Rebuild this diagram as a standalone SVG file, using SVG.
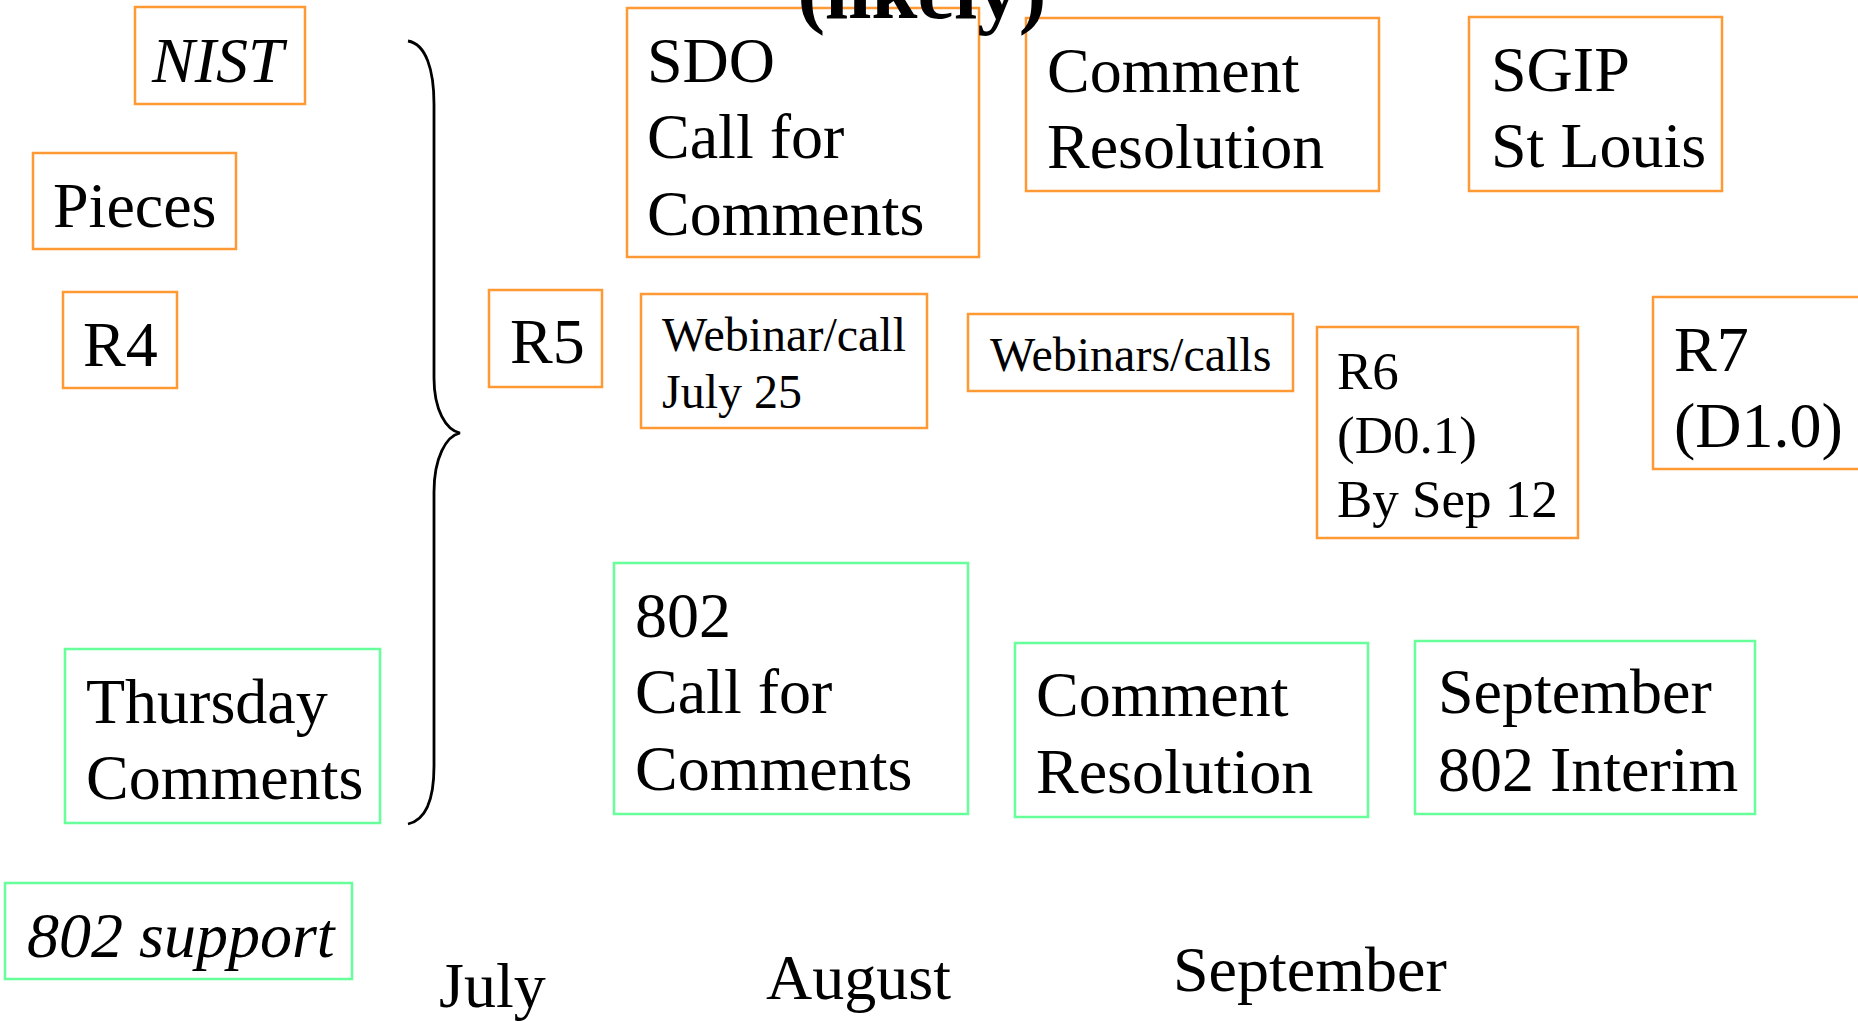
<svg xmlns="http://www.w3.org/2000/svg" width="1858" height="1021" viewBox="0 0 1858 1021">
  <style>
    text { font-family: "Liberation Serif", "Times New Roman", serif; fill: #000; }
    .big { font-size: 64px; }
    .mid { font-size: 53px; }
    .small { font-size: 48px; }
    .it { font-style: italic; }
    .title { font-size: 83px; font-weight: bold; }
    .orange { fill: #fff; stroke: #FF9933; stroke-width: 2.5; }
    .green { fill: #fff; stroke: #66FF99; stroke-width: 2.5; }
    .brace { fill: none; stroke: #000; stroke-width: 2.8; }
  </style>

  <rect width="1858" height="1021" fill="#fff"/>

  <!-- left column -->
  <g id="nist">
    <rect class="orange" x="135" y="7" width="170" height="97"/>
    <text class="big it" x="152" y="82">NIST</text>
  </g>
  <g id="pieces">
    <rect class="orange" x="33" y="153" width="203" height="96"/>
    <text class="big" x="53" y="227">Pieces</text>
  </g>
  <g id="r4">
    <rect class="orange" x="63" y="292" width="114" height="96"/>
    <text class="big" x="83" y="366">R4</text>
  </g>
  <g id="thursday-comments">
    <rect class="green" x="65" y="649" width="315" height="174"/>
    <text class="big" x="86" y="723">Thursday</text>
    <text class="big" x="86" y="799">Comments</text>
  </g>
  <g id="support-802">
    <rect class="green" x="5" y="883" width="347" height="96"/>
    <text class="big it" x="27" y="957">802 support</text>
  </g>

  <!-- grouping brace -->
  <g id="connectors">
    <path class="brace" d="M408,41 C426,44 434,70 434,104 L434,378 C434,410 446,430 460,433 C446,436 434,458 434,492 L434,766 C434,800 426,820 408,824"/>
  </g>

  <!-- SDO track -->
  <g id="sdo-call">
    <rect class="orange" x="627" y="8" width="352" height="249"/>
    <text class="big" x="647" y="82">SDO</text>
    <text class="big" x="647" y="158">Call for</text>
    <text class="big" x="647" y="235">Comments</text>
  </g>
  <g id="sdo-resolution">
    <rect class="orange" x="1026" y="18" width="353" height="173"/>
    <text class="big" x="1047" y="92">Comment</text>
    <text class="big" x="1047" y="168">Resolution</text>
  </g>
  <g id="sgip">
    <rect class="orange" x="1469" y="17" width="253" height="174"/>
    <text class="big" x="1491" y="91">SGIP</text>
    <text class="big" x="1491" y="167">St Louis</text>
  </g>

  <!-- releases -->
  <g id="r5">
    <rect class="orange" x="489" y="290" width="113" height="97"/>
    <text class="big" x="510" y="363">R5</text>
  </g>
  <g id="webinar-july">
    <rect class="orange" x="641" y="294" width="286" height="134"/>
    <text class="small" x="662" y="351">Webinar/call</text>
    <text class="small" x="662" y="408">July 25</text>
  </g>
  <g id="webinars">
    <rect class="orange" x="968" y="314" width="325" height="77"/>
    <text class="small" x="990" y="371">Webinars/calls</text>
  </g>
  <g id="r6">
    <rect class="orange" x="1317" y="327" width="261" height="211"/>
    <text class="mid" x="1337" y="389">R6</text>
    <text class="mid" x="1337" y="453">(D0.1)</text>
    <text class="mid" x="1337" y="517">By Sep 12</text>
  </g>
  <g id="r7">
    <rect class="orange" x="1653" y="297" width="240" height="172"/>
    <text class="big" x="1674" y="371">R7</text>
    <text class="big" x="1674" y="447">(D1.0)</text>
  </g>

  <!-- 802 track -->
  <g id="call-802">
    <rect class="green" x="614" y="563" width="354" height="251"/>
    <text class="big" x="635" y="637">802</text>
    <text class="big" x="635" y="713">Call for</text>
    <text class="big" x="635" y="790">Comments</text>
  </g>
  <g id="resolution-802">
    <rect class="green" x="1015" y="643" width="353" height="174"/>
    <text class="big" x="1036" y="716">Comment</text>
    <text class="big" x="1036" y="793">Resolution</text>
  </g>
  <g id="interim-802">
    <rect class="green" x="1415" y="641" width="340" height="173"/>
    <text class="big" x="1438" y="713">September</text>
    <text class="big" x="1438" y="791">802 Interim</text>
  </g>

  <!-- month axis -->
  <g id="months">
    <text class="big" x="439" y="1007">July</text>
    <text class="big" x="766" y="999">August</text>
    <text class="big" x="1173" y="991">September</text>
  </g>

  <!-- heading, partly above the top edge, drawn over the boxes -->
  <text class="title" x="922" y="18" text-anchor="middle">(likely)</text>
</svg>
